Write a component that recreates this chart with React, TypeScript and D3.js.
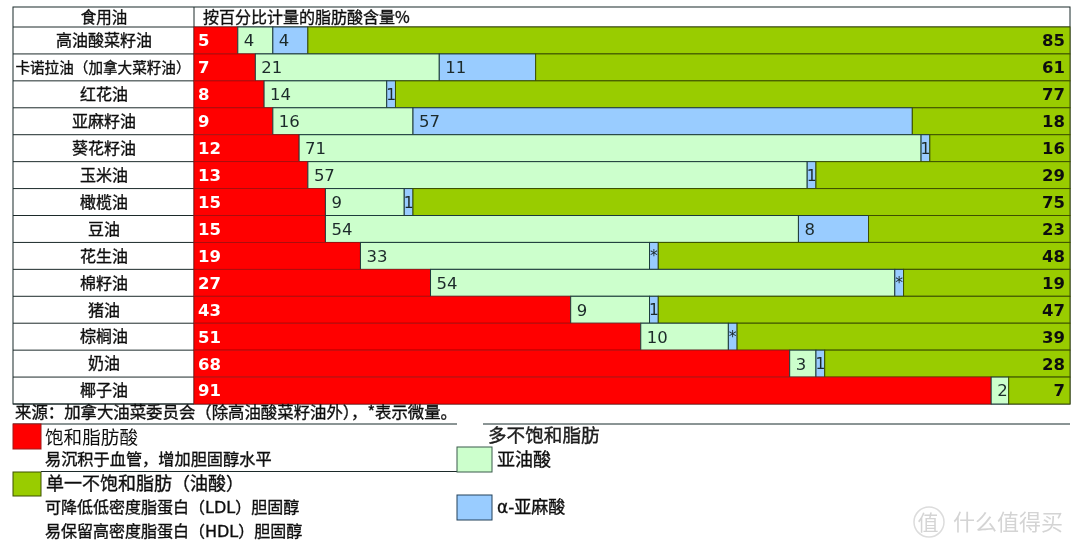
import React from "react";
import * as d3 from "d3";

const oils = ["高油酸菜籽油","卡诺拉油\uFF08加拿大菜籽油\uFF09","红花油","亚麻籽油","葵花籽油","玉米油","橄榄油","豆油","花生油","棉籽油","猪油","棕榈油","奶油","椰子油"];
const saturated = [5,7,8,9,12,13,15,15,19,27,43,51,68,91];
const linoleic = [4,21,14,16,71,57,9,54,33,54,9,10,3,2];
// Width of the pale bar as drawn; the cotton seed trace sits inside its 54.
const linoleicDrawn = [4,21,14,16,71,57,9,54,33,53,9,10,3,2];
const alpha = [4,11,1,57,1,1,1,8,1,1,1,1,1,0];
const alphaLabels = ["4","11","1","57","1","1","1","8","*","*","1","*","1",""];
const mono = [85,61,77,18,16,29,75,23,48,19,47,39,28,7];

const sourceNote = "来源\uFF1A加拿大油菜委员会\uFF08除高油酸菜籽油外\uFF09\uFF0C*表示微量。";
const satNote = "易沉积于血管\uFF0C增加胆固醇水平";
const monoTitle = "单一不饱和脂肪\uFF08油酸\uFF09";
const monoNote1 = "可降低低密度脂蛋白\uFF08LDL\uFF09胆固醇";
const monoNote2 = "易保留高密度脂蛋白\uFF08HDL\uFF09胆固醇";

const RED = "#ff0000", PALE = "#ccffcc", BLUE = "#99ccff", GREEN = "#99cc00", INK = "#1c2a2a";
const LATIN = "'DejaVu Sans','Noto Sans CJK SC',sans-serif";
const CJK = "'Noto Sans CJK SC','DejaVu Sans',sans-serif";

const W = 1080, H = 549, LEFT = 13, DIV = 194, RIGHT = 1070, TOP = 7, HEAD = 27, BOTTOM = 404;
const x = d3.scaleLinear().domain([0, 100]).range([DIV, RIGHT]);
const y = d3.scaleBand<number>().domain(d3.range(oils.length)).range([HEAD, BOTTOM]);

const heavy = { stroke: "#111", strokeWidth: 0.35 };

export default function App() {
  const rh = y.bandwidth();
  return (
    <svg width={W} height={H} viewBox={`0 0 ${W} ${H}`} style={{ position: "absolute", left: 0, top: 0, background: "#fff" }}>
      <defs>
        <filter id="soft" x="-2%" y="-2%" width="104%" height="104%"><feGaussianBlur stdDeviation="0.35" /></filter>
      </defs>
      <g filter="url(#soft)">
        <rect x={LEFT} y={TOP} width={RIGHT - LEFT} height={BOTTOM - TOP} fill="#fff" stroke={INK} />
        <line x1={DIV} x2={DIV} y1={TOP} y2={BOTTOM} stroke={INK} />
        <line x1={LEFT} x2={RIGHT} y1={HEAD} y2={HEAD} stroke={INK} />
        <text x={104} y={17} dy="0.36em" textAnchor="middle" fontFamily={CJK} fontSize={15.5} fill="#111" {...heavy}>食用油</text>
        <text x={203} y={17} dy="0.36em" fontFamily={CJK} fontSize={16} fill="#111" {...heavy}>按百分比计量的脂肪酸含量%</text>
        {oils.map((name, i) => {
          const y0 = y(i)!;
          const cy = y0 + rh / 2;
          const a = x(saturated[i]);
          const b = x(saturated[i] + linoleicDrawn[i]);
          const c = x(saturated[i] + linoleicDrawn[i] + alpha[i]);
          const narrow = alpha[i] === 1;
          return (
            <g key={name}>
              <line x1={LEFT} x2={DIV} y1={y0 + rh} y2={y0 + rh} stroke={INK} />
              <text x={i === 1 ? 103 : 104} y={cy} dy="0.36em" textAnchor="middle" fontFamily={CJK} fontSize={i === 1 ? 14.6 : 16} fill="#111" {...heavy}>{name}</text>
              <rect x={DIV} y={y0} width={a - DIV} height={rh} fill={RED} stroke="#a01010" strokeWidth={0.8} />
              <rect x={a} y={y0} width={b - a} height={rh} fill={PALE} stroke="#1d3b3b" strokeWidth={1} />
              {alpha[i] > 0 && <rect x={b} y={y0} width={c - b} height={rh} fill={BLUE} stroke="#1d3b3b" strokeWidth={1} />}
              <rect x={c} y={y0} width={RIGHT - c} height={rh} fill={GREEN} stroke="#3c5000" strokeWidth={1} />
              <text x={DIV + 4} y={cy} dy="0.36em" fontFamily={LATIN} fontWeight={700} fontSize={16.5} fill="#fff">{saturated[i]}</text>
              <text x={a + 6} y={cy} dy="0.36em" fontFamily={LATIN} fontSize={16.5} fill={INK}>{linoleic[i]}</text>
              {alpha[i] > 0 && (
                <text x={narrow ? (b + c) / 2 : b + 6} y={cy} dy="0.36em" textAnchor={narrow ? "middle" : "start"} fontFamily={LATIN} fontSize={narrow ? 15.5 : 16.5} fill={INK}>{alphaLabels[i]}</text>
              )}
              <text x={RIGHT - 5} y={cy} dy="0.36em" textAnchor="end" fontFamily={LATIN} fontWeight={700} fontSize={16.5} fill="#111">{mono[i]}</text>
            </g>
          );
        })}

        <text x={15} y={412.5} dy="0.36em" fontFamily={CJK} fontSize={16.4} fill="#111" {...heavy}>{sourceNote}</text>
        <line x1={13} x2={457} y1={424} y2={424} stroke={INK} />
        <line x1={483} x2={RIGHT} y1={424} y2={424} stroke={INK} />
        <line x1={41} x2={492} y1={471.5} y2={471.5} stroke={INK} />

        <rect x={13} y={424} width={28} height={25} fill={RED} stroke="#a01010" />
        <text x={45} y={437} dy="0.36em" fontFamily={CJK} fontSize={18.6} fill="#111">饱和脂肪酸</text>
        <text x={45} y={459.5} dy="0.36em" fontFamily={CJK} fontSize={16.2} fill="#111" {...heavy}>{satNote}</text>

        <rect x={13} y={472} width={28} height={24} fill={GREEN} stroke="#3c5000" />
        <text x={46} y={484} dy="0.36em" fontFamily={CJK} fontSize={18} fill="#111" {...heavy}>{monoTitle}</text>
        <text x={45} y={507} dy="0.36em" fontFamily={LATIN} fontSize={16} fill="#111" {...heavy}>{monoNote1}</text>
        <text x={45} y={531} dy="0.36em" fontFamily={LATIN} fontSize={16} fill="#111" {...heavy}>{monoNote2}</text>

        <text x={488} y={435} dy="0.36em" fontFamily={CJK} fontSize={18.6} fill="#222" {...heavy}>多不饱和脂肪</text>
        <rect x={457} y={447} width={35} height={25} fill={PALE} stroke="#3a5a4a" />
        <text x={497} y={460} dy="0.36em" fontFamily={CJK} fontSize={18} fill="#111" {...heavy}>亚油酸</text>
        <rect x={457} y={495} width={35} height={25} fill={BLUE} stroke="#24405a" />
        <text x={497} y={507} dy="0.36em" fontFamily={LATIN} fontSize={17} fill="#111" {...heavy}>α-亚麻酸</text>

        <g fill="#d4d4d4" stroke="none">
          <circle cx={929} cy={522} r={15} fill="none" stroke="#dcdcdc" strokeWidth={1.5} />
          <text x={928} y={522} dy="0.36em" textAnchor="middle" fontFamily={CJK} fontSize={21}>值</text>
          <text x={953} y={522} dy="0.36em" fontFamily={CJK} fontSize={22}>什么值得买</text>
        </g>
      </g>
    </svg>
  );
}
